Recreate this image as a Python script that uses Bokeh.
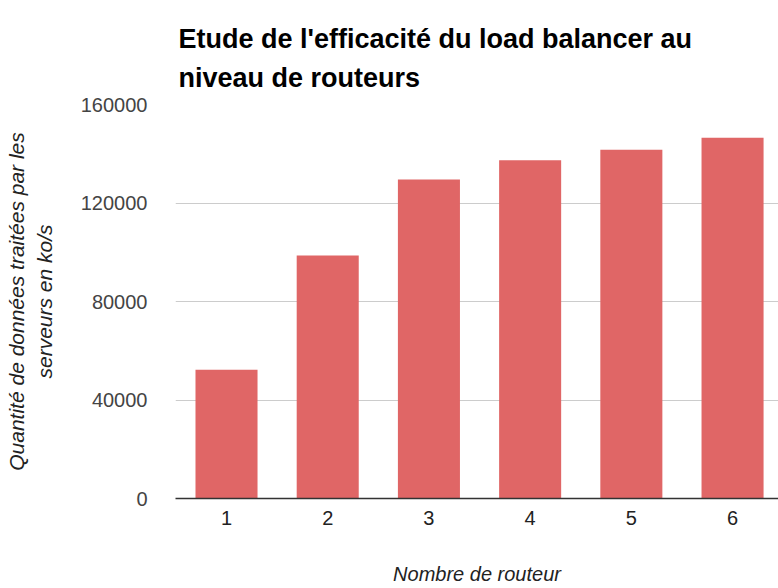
from bokeh.plotting import figure
from bokeh.models import Range1d, FixedTicker, Title, ColumnDataSource, NumeralTickFormatter
from bokeh.embed import file_html
from bokeh.resources import INLINE

routeurs = [1, 2, 3, 4, 5, 6]
quantite = [52300, 98700, 129500, 137400, 141600, 146500]
y_ticks = [0, 40000, 80000, 120000, 160000]
title_lines = ["Etude de l'efficacité du load balancer au", "niveau de routeurs"]
x_label = "Nombre de routeur"
y_label = "Quantité de données traitées par les\nserveurs en ko/s"

src = ColumnDataSource(dict(x=routeurs, y=quantite))

p = figure(width=778, height=588, output_backend="svg", toolbar_location=None,
           x_range=Range1d(0.496, 6.454), y_range=Range1d(0, 160000),
           min_border_left=175, min_border_right=0, min_border_top=104,
           min_border_bottom=90)

p.vbar(x="x", top="y", width=0.613, source=src, fill_color="#e06666", line_color=None)

p.title = Title(text="\n".join(title_lines), text_font="Liberation Sans",
                text_font_size="27px", text_font_style="bold", text_color="#000000",
                text_line_height=1.33, offset=3, standoff=22)

p.outline_line_color = None
p.xgrid.grid_line_color = None
p.ygrid.grid_line_color = "#cccccc"
p.ygrid.ticker = FixedTicker(ticks=y_ticks)

p.yaxis.ticker = FixedTicker(ticks=y_ticks)
p.yaxis.formatter = NumeralTickFormatter(format="0")
p.yaxis.axis_line_color = None
p.yaxis.major_tick_line_color = None
p.yaxis.minor_tick_line_color = None
p.yaxis.major_label_text_font = "Liberation Sans"
p.yaxis.major_label_text_font_size = "20px"
p.yaxis.major_label_text_color = "#444444"
p.yaxis.major_label_standoff = 22
p.yaxis.axis_label = y_label
p.yaxis.axis_label_text_font = "Liberation Sans"
p.yaxis.axis_label_text_font_size = "21px"
p.yaxis.axis_label_text_font_style = "italic"
p.yaxis.axis_label_text_color = "#222222"
p.yaxis.axis_label_standoff = 22

p.xaxis.ticker = FixedTicker(ticks=routeurs)
p.xaxis.axis_line_color = "#333333"
p.xaxis.axis_line_width = 1.5
p.xaxis.major_tick_line_color = None
p.xaxis.minor_tick_line_color = None
p.xaxis.major_label_text_font = "Liberation Sans"
p.xaxis.major_label_text_font_size = "20px"
p.xaxis.major_label_text_color = "#222222"
p.xaxis.major_label_standoff = 6
p.xaxis.axis_label = x_label
p.xaxis.axis_label_text_font = "Liberation Sans"
p.xaxis.axis_label_text_font_size = "20px"
p.xaxis.axis_label_text_font_style = "italic"
p.xaxis.axis_label_text_color = "#222222"
p.xaxis.axis_label_standoff = 35

open("out.html", "w").write(file_html(p, INLINE))
